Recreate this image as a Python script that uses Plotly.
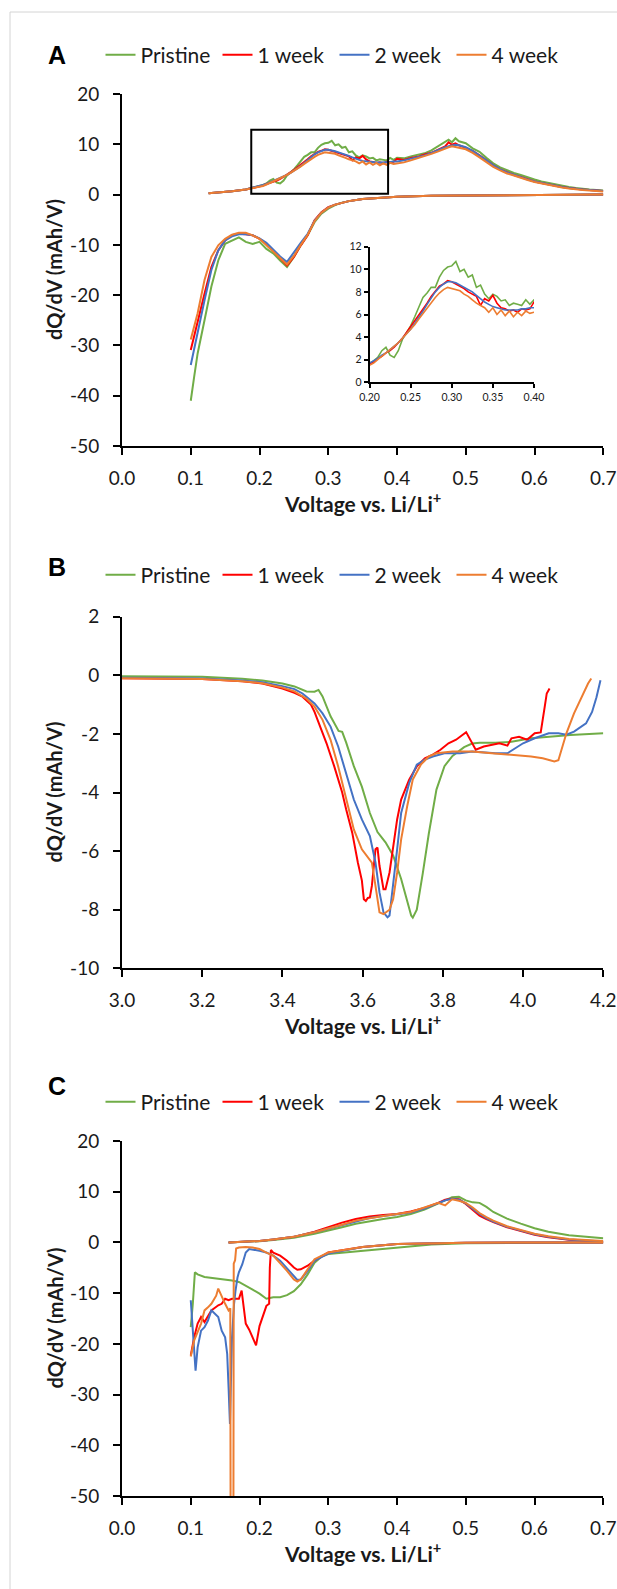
import plotly.graph_objects as go

W, H = 617, 1589
FONT = "Lato"

SERIES = ["Pristine", "1 week", "2 week", "4 week"]
COLORS = ["#70AD47", "#FF0000", "#4472C4", "#ED7D31"]

# ---------------- Panel A (anode, dQ/dV) ----------------
A_dis_V = [0.70, 0.65, 0.60, 0.55, 0.50, 0.45, 0.40, 0.37, 0.35, 0.33, 0.32, 0.31, 0.30, 0.29, 0.28,
           0.27, 0.26, 0.25, 0.24, 0.23, 0.22, 0.21, 0.20, 0.19, 0.18, 0.17, 0.16, 0.15, 0.14, 0.13,
           0.12, 0.11, 0.105, 0.10]
A_dis_pristine = [0, -0.03, -0.06, -0.1, -0.15, -0.25, -0.45, -0.65, -0.9, -1.3, -1.6, -2.1, -2.8, -3.8, -5.5,
                  -8.1, -10.1, -12.4, -14.4, -13.1, -11.7, -10.8, -9.4, -9.8, -9.4, -8.5, -9.1, -9.8, -13.1, -18.3,
                  -25.0, -31.6, -36.2, -41.0]
A_dis_1wk = [0, -0.03, -0.06, -0.1, -0.15, -0.25, -0.45, -0.65, -0.9, -1.3, -1.6, -2.0, -2.5, -3.5, -5.1,
             -8.1, -10.1, -12.4, -14.1, -12.7, -11.4, -9.8, -8.8, -8.1, -7.9, -7.8, -8.1, -9.1, -11.1, -14.4,
             -19.7, -25.6, -28.3, -30.9]
A_dis_2wk = [0, -0.03, -0.06, -0.1, -0.15, -0.25, -0.45, -0.65, -0.9, -1.3, -1.6, -2.0, -2.6, -3.6, -5.2,
             -7.8, -9.6, -11.6, -13.4, -12.3, -11.0, -9.6, -8.7, -8.1, -7.9, -7.9, -8.3, -9.1, -11.1, -15.0,
             -21.0, -27.6, -30.8, -33.9]
A_dis_4wk = [0, -0.03, -0.06, -0.1, -0.15, -0.25, -0.45, -0.65, -0.9, -1.3, -1.6, -2.0, -2.6, -3.6, -5.3,
             -8.0, -10.0, -12.2, -13.9, -12.6, -11.3, -9.9, -8.8, -8.1, -7.6, -7.6, -8.0, -8.8, -10.1, -12.4,
             -17.0, -23.6, -26.2, -28.8]

A_chg_V = [0.126, 0.14, 0.16, 0.18, 0.19,
           0.200, 0.205, 0.210, 0.215, 0.220, 0.225, 0.230, 0.235, 0.240, 0.245,
           0.250, 0.255, 0.260, 0.265, 0.270, 0.275, 0.280, 0.285, 0.290, 0.295,
           0.300, 0.305, 0.310, 0.315, 0.320, 0.325, 0.330, 0.335, 0.340, 0.345,
           0.350, 0.355, 0.360, 0.365, 0.370, 0.375, 0.380, 0.385, 0.390, 0.395, 0.400,
           0.41, 0.42, 0.43, 0.44, 0.45, 0.46, 0.465, 0.47, 0.475, 0.48, 0.485, 0.49,
           0.50, 0.51, 0.52, 0.53, 0.54, 0.55, 0.56, 0.57, 0.58, 0.59, 0.60,
           0.61, 0.62, 0.63, 0.64, 0.65, 0.66, 0.67, 0.68, 0.69, 0.70]
A_chg_pristine = [0.25, 0.4, 0.65, 1.0, 1.3,
                  1.7, 1.9, 2.2, 2.8, 3.1, 2.4, 2.2, 2.8, 3.8, 4.4,
                  5.0, 5.8, 6.6, 7.5, 7.9, 8.4, 8.4, 9.3, 9.9, 10.2,
                  10.3, 10.7, 9.8, 10.0, 9.3, 9.5, 8.4, 8.6, 7.8, 7.4,
                  7.8, 7.6, 7.2, 7.3, 6.8, 7.0, 6.9, 6.8, 7.3, 6.9, 7.3,
                  7.2, 7.6, 7.9, 8.2, 8.8, 9.6, 10.1, 10.5, 10.9, 10.4, 11.2, 10.6,
                  10.2, 9.2, 8.5, 7.3, 6.2, 5.4, 4.8, 4.3, 3.9, 3.4, 3.0,
                  2.6, 2.3, 2.0, 1.7, 1.5, 1.3, 1.1, 1.0, 0.9, 0.8]
A_chg_1wk = [0.25, 0.4, 0.65, 1.0, 1.3,
             1.6, 1.8, 2.1, 2.3, 2.6, 2.8, 3.1, 3.5, 3.9, 4.4,
             4.9, 5.4, 5.9, 6.5, 7.0, 7.6, 8.1, 8.5, 8.7, 9.0,
             8.9, 8.7, 8.5, 8.3, 8.0, 7.8, 7.6, 6.8, 7.4, 7.2,
             7.7, 7.0, 6.6, 6.5, 6.3, 6.4, 6.2, 6.5, 6.4, 6.5, 7.1,
             6.9, 7.3, 7.5, 8.0, 8.3, 9.0, 9.3, 9.6, 10.4, 9.9, 10.2, 9.8,
             9.3, 8.7, 7.8, 6.8, 5.8, 5.0, 4.4, 3.9, 3.5, 3.0, 2.6,
             2.3, 2.0, 1.7, 1.5, 1.3, 1.1, 1.0, 0.9, 0.8, 0.7]
A_chg_2wk = [0.25, 0.4, 0.65, 1.0, 1.3,
             1.7, 1.9, 2.1, 2.4, 2.6, 2.9, 3.2, 3.5, 3.9, 4.3,
             4.7, 5.2, 5.7, 6.3, 6.9, 7.5, 8.0, 8.4, 8.7, 8.9,
             8.9, 8.8, 8.6, 8.4, 8.2, 8.0, 7.7, 7.4, 7.1, 6.9,
             6.7, 6.6, 6.5, 6.4, 6.4, 6.4, 6.4, 6.5, 6.5, 6.6, 6.6,
             6.8, 7.1, 7.4, 7.8, 8.3, 8.9, 9.2, 9.4, 9.6, 9.8, 9.9, 9.8,
             9.4, 8.7, 7.8, 6.8, 5.8, 5.0, 4.4, 3.9, 3.5, 3.0, 2.6,
             2.3, 2.0, 1.7, 1.5, 1.3, 1.1, 1.0, 0.9, 0.8, 0.7]
A_chg_4wk = [0.25, 0.4, 0.65, 1.0, 1.3,
             1.5, 1.7, 2.0, 2.3, 2.6, 2.9, 3.2, 3.5, 3.9, 4.3,
             4.7, 5.1, 5.6, 6.1, 6.6, 7.1, 7.5, 7.9, 8.2, 8.4,
             8.3, 8.2, 8.1, 7.8, 7.6, 7.3, 7.0, 6.8, 6.6, 6.2,
             6.6, 6.0, 6.4, 5.9, 6.3, 5.8, 6.2, 5.9, 6.3, 6.1, 6.2,
             6.4, 6.8, 7.2, 7.6, 8.1, 8.6, 8.9, 9.2, 9.4, 9.6, 9.4, 9.3,
             9.0, 8.3, 7.4, 6.4, 5.5, 4.8, 4.2, 3.8, 3.3, 2.9, 2.5,
             2.2, 1.9, 1.6, 1.4, 1.2, 1.0, 0.9, 0.8, 0.7, 0.6]

# ---------------- Panel B (cathode, dQ/dV) ----------------
B_pristine_V = [3.00, 3.10, 3.20, 3.30, 3.35, 3.40, 3.43, 3.46, 3.48, 3.49, 3.50, 3.52, 3.54, 3.549,
                3.559, 3.578, 3.598, 3.618, 3.637, 3.657, 3.676, 3.696, 3.711, 3.721, 3.725, 3.735,
                3.75, 3.765, 3.784, 3.804, 3.824, 3.853, 3.873, 3.892, 3.931, 3.971, 4.02, 4.069,
                4.118, 4.2]
B_pristine_Q = [-0.03, -0.04, -0.05, -0.12, -0.18, -0.28, -0.38, -0.55, -0.56, -0.5, -0.72, -1.4, -1.9, -1.93,
                -2.3, -3.1, -3.8, -4.7, -5.35, -5.7, -6.15, -6.95, -7.75, -8.2, -8.27, -8.0,
                -6.75, -5.4, -3.9, -3.1, -2.75, -2.45, -2.33, -2.3, -2.3, -2.27, -2.15, -2.09,
                -2.04, -1.98]
B_1wk_V = [3.00, 3.10, 3.20, 3.30, 3.35, 3.40, 3.43, 3.45, 3.46, 3.471,
           3.48, 3.49, 3.51, 3.529, 3.549, 3.559, 3.574, 3.588, 3.598, 3.603,
           3.608, 3.613, 3.618, 3.623, 3.632, 3.637, 3.642, 3.652, 3.657, 3.667,
           3.676, 3.686, 3.696, 3.716, 3.735, 3.755, 3.775, 3.794, 3.814, 3.833,
           3.858, 3.873, 3.882, 3.902, 3.922, 3.941, 3.961, 3.971, 3.99, 4.01,
           4.029, 4.044, 4.054, 4.059, 4.066]
B_1wk_Q = [-0.1, -0.11, -0.13, -0.2, -0.28, -0.45, -0.6, -0.73, -0.85, -1.0,
           -1.25, -1.6, -2.32, -3.1, -4.0, -4.58, -5.37, -6.39, -7.0, -7.64,
           -7.7, -7.6, -7.58, -7.19, -5.94, -5.88, -6.5, -7.3, -7.3, -6.73,
           -5.83, -4.92, -4.24, -3.56, -3.11, -2.83, -2.71, -2.54, -2.32, -2.2,
           -1.94, -2.32, -2.54, -2.43, -2.37, -2.32, -2.4, -2.15, -2.1, -2.2,
           -1.98, -1.95, -1.07, -0.62, -0.45]
B_2wk_V = [3.00, 3.10, 3.20, 3.30, 3.35, 3.40, 3.43, 3.45, 3.47, 3.48,
           3.50, 3.52, 3.539, 3.559, 3.578, 3.598, 3.618, 3.632, 3.642, 3.652,
           3.662, 3.667, 3.676, 3.686, 3.696, 3.716, 3.735, 3.755, 3.775, 3.804,
           3.843, 3.873, 3.931, 3.961, 4.0, 4.029, 4.064, 4.088, 4.108, 4.127,
           4.157, 4.172, 4.183, 4.193]
B_2wk_Q = [-0.08, -0.09, -0.11, -0.18, -0.24, -0.37, -0.47, -0.62, -0.85, -0.96,
           -1.3, -1.75, -2.43, -3.34, -4.24, -4.92, -5.49, -6.39, -7.41, -8.09,
           -8.26, -8.2, -7.19, -5.94, -4.7, -3.68, -3.05, -2.88, -2.77, -2.66,
           -2.66, -2.6, -2.66, -2.66, -2.32, -2.15, -1.98, -1.98, -2.03, -1.92,
           -1.64, -1.25, -0.75, -0.17]
B_4wk_V = [3.00, 3.10, 3.20, 3.30, 3.35, 3.40, 3.43, 3.46, 3.48, 3.50,
           3.52, 3.539, 3.559, 3.578, 3.598, 3.613, 3.623, 3.632, 3.642, 3.652,
           3.667, 3.676, 3.686, 3.696, 3.711, 3.725, 3.745, 3.765, 3.784, 3.824,
           3.873, 3.922, 3.971, 4.02, 4.049, 4.078, 4.088, 4.108, 4.127, 4.142,
           4.162, 4.17]
B_4wk_Q = [-0.1, -0.11, -0.13, -0.2, -0.27, -0.42, -0.55, -0.8, -1.07, -1.52,
           -2.2, -3.11, -4.24, -5.26, -5.94, -6.22, -6.39, -7.19, -8.09, -8.15,
           -8.0, -7.64, -6.73, -5.6, -4.47, -3.56, -3.05, -2.77, -2.66, -2.6,
           -2.6, -2.66, -2.71, -2.77, -2.83, -2.94, -2.9, -1.98, -1.3, -0.85,
           -0.28, -0.11]

# ---------------- Panel C (anode, dQ/dV) ----------------
C_chg_V = [0.155, 0.18, 0.20, 0.22, 0.25, 0.28, 0.30, 0.32, 0.34, 0.36, 0.38, 0.40, 0.42, 0.44, 0.46,
           0.47, 0.48, 0.49, 0.50, 0.51, 0.52, 0.53, 0.54, 0.56, 0.58, 0.60, 0.62, 0.65, 0.70]
C_chg_pristine = [0.0, 0.1, 0.25, 0.5, 0.9, 1.7, 2.3, 3.0, 3.7, 4.2, 4.6, 5.0, 5.6, 6.5, 7.6,
                  8.3, 8.9, 9.0, 8.3, 7.9, 7.8, 7.0, 6.0, 4.7, 3.7, 2.8, 2.1, 1.4, 0.8]
C_chg_1wk = [0.0, 0.1, 0.3, 0.6, 1.1, 2.1, 3.0, 3.9, 4.6, 5.1, 5.4, 5.6, 6.1, 6.8, 7.8,
             8.4, 8.6, 8.5, 7.6, 6.4, 5.3, 4.6, 4.0, 3.0, 2.2, 1.5, 1.0, 0.55, 0.15]
C_chg_2wk = [0.0, 0.1, 0.3, 0.6, 1.1, 2.0, 2.7, 3.5, 4.2, 4.8, 5.2, 5.5, 5.9, 6.7, 7.7,
             8.3, 8.6, 8.4, 7.7, 6.7, 5.6, 4.8, 4.1, 3.1, 2.3, 1.6, 1.1, 0.6, 0.2]
C_chg_4wk = [0.0, 0.1, 0.3, 0.6, 1.1, 2.0, 2.7, 3.5, 4.3, 4.8, 5.2, 5.6, 6.0, 6.9, 7.8,
             7.3, 8.5, 8.2, 7.8, 6.9, 5.8, 5.0, 4.3, 3.2, 2.4, 1.7, 1.2, 0.7, 0.3]

C_dis_pristine_V = [0.70, 0.60, 0.50, 0.45, 0.40, 0.35, 0.30, 0.29, 0.28, 0.27, 0.26, 0.25, 0.24, 0.23,
                    0.22, 0.21, 0.20, 0.19, 0.18, 0.17, 0.16, 0.14, 0.12, 0.11, 0.106, 0.103, 0.10]
C_dis_pristine_Q = [0, -0.05, -0.15, -0.4, -1.0, -1.65, -2.3, -2.8, -4.0, -6.3, -8.25, -9.6, -10.4, -10.8,
                    -10.8, -11.1, -10.1, -9.3, -8.5, -7.8, -7.5, -7.2, -6.8, -6.3, -5.9, -12.1, -16.7]
C_dis_1wk_V = [0.70, 0.60, 0.50, 0.40, 0.35, 0.30, 0.28, 0.27, 0.26, 0.255,
               0.25, 0.24, 0.23, 0.22, 0.2166, 0.215, 0.214, 0.21, 0.205, 0.20,
               0.195, 0.19, 0.185, 0.18, 0.176, 0.174, 0.17, 0.165, 0.16, 0.155,
               0.15, 0.145, 0.14, 0.13, 0.12, 0.115, 0.11, 0.105, 0.102, 0.10]
C_dis_1wk_Q = [0, -0.02, -0.05, -0.3, -0.9, -2.0, -3.6, -4.6, -5.3, -5.4,
               -4.95, -3.6, -2.6, -2.0, -1.5, -5.0, -12.1, -12.5, -14.7, -16.5,
               -20.3, -18.7, -17.2, -16.0, -12.0, -9.5, -11.1, -11.1, -11.1, -11.4,
               -11.1, -12.1, -12.4, -13.4, -15.7, -14.7, -16.0, -18.7, -20.7, -22.3]
C_dis_2wk_V = [0.70, 0.60, 0.50, 0.40, 0.35, 0.30, 0.28, 0.27, 0.26, 0.255,
               0.25, 0.24, 0.23, 0.22, 0.21, 0.20, 0.19, 0.185, 0.18, 0.175,
               0.17, 0.168, 0.165, 0.163, 0.16, 0.158, 0.157, 0.155, 0.153, 0.15,
               0.145, 0.14, 0.135, 0.13, 0.125, 0.12, 0.115, 0.11, 0.107, 0.104,
               0.102, 0.10]
C_dis_2wk_Q = [0, -0.02, -0.05, -0.3, -0.9, -2.2, -3.6, -5.6, -7.3, -7.4,
               -6.6, -5.0, -3.6, -2.6, -2.0, -1.65, -1.45, -1.3, -2.0, -4.3,
               -5.9, -6.9, -9.6, -12.1, -18.7, -28.6, -35.8, -28.6, -22.0, -18.7,
               -17.4, -14.7, -14.1, -13.4, -15.4, -16.7, -17.4, -20.7, -25.3, -18.7,
               -14.7, -11.4]
C_dis_4wk_V = [0.70, 0.60, 0.50, 0.40, 0.35, 0.30, 0.28, 0.27, 0.26, 0.255,
               0.25, 0.24, 0.23, 0.22, 0.21, 0.20, 0.19, 0.18, 0.17, 0.166,
               0.1645, 0.1625, 0.162, 0.158, 0.1575, 0.155, 0.15, 0.145, 0.14, 0.137,
               0.13, 0.125, 0.12, 0.115, 0.11, 0.105, 0.10]
C_dis_4wk_Q = [0, -0.02, -0.05, -0.3, -0.9, -2.0, -3.3, -5.3, -7.3, -7.7,
               -7.3, -5.6, -4.0, -2.6, -2.0, -1.3, -1.0, -0.9, -1.0, -1.2,
               -3.5, -4.2, -60, -60, -13.0, -13.4, -12.1, -10.5, -9.1, -10.5,
               -12.1, -12.8, -13.4, -16.0, -17.7, -19.3, -22.5]

# tick values / labels
A_xticks = [0.0, 0.1, 0.2, 0.3, 0.4, 0.5, 0.6, 0.7]
B_xticks = [3.0, 3.2, 3.4, 3.6, 3.8, 4.0, 4.2]
A_yticks = [20, 10, 0, -10, -20, -30, -40, -50]
B_yticks = [2, 0, -2, -4, -6, -8, -10]
INSET_yticks = [0, 2, 4, 6, 8, 10, 12]
INSET_xticks = [0.20, 0.25, 0.30, 0.35, 0.40]

# ---------------- figure ----------------
fig = go.Figure()

A_dis = [A_dis_pristine, A_dis_1wk, A_dis_2wk, A_dis_4wk]
A_chg = [A_chg_pristine, A_chg_1wk, A_chg_2wk, A_chg_4wk]
B_V = [B_pristine_V, B_1wk_V, B_2wk_V, B_4wk_V]
B_Q = [B_pristine_Q, B_1wk_Q, B_2wk_Q, B_4wk_Q]
C_chg = [C_chg_pristine, C_chg_1wk, C_chg_2wk, C_chg_4wk]
C_dV = [C_dis_pristine_V, C_dis_1wk_V, C_dis_2wk_V, C_dis_4wk_V]
C_dQ = [C_dis_pristine_Q, C_dis_1wk_Q, C_dis_2wk_Q, C_dis_4wk_Q]

for i in range(4):
    fig.add_trace(go.Scatter(
        x=A_dis_V + [None] + A_chg_V, y=A_dis[i] + [None] + A_chg[i],
        mode="lines", name=SERIES[i], line=dict(color=COLORS[i], width=2),
        xaxis="x", yaxis="y", legend="legend", connectgaps=False))
for i in range(4):
    fig.add_trace(go.Scatter(
        x=A_chg_V, y=A_chg[i], mode="lines", name=SERIES[i],
        line=dict(color=COLORS[i], width=1.6), xaxis="x4", yaxis="y4", showlegend=False))
for i in range(4):
    fig.add_trace(go.Scatter(
        x=B_V[i], y=B_Q[i], mode="lines", name=SERIES[i],
        line=dict(color=COLORS[i], width=2), xaxis="x2", yaxis="y2", legend="legend2"))
for i in range(4):
    fig.add_trace(go.Scatter(
        x=C_dV[i] + [None] + C_chg_V, y=C_dQ[i] + [None] + C_chg[i],
        mode="lines", name=SERIES[i], line=dict(color=COLORS[i], width=2),
        xaxis="x3", yaxis="y3", legend="legend3", connectgaps=False))

def ydom(top, bottom):
    return [1 - bottom / H, 1 - top / H]

XDOM = [122 / W, 603.3 / W]
TICKFONT = dict(family=FONT, size=19, color="#1a1a1a")
common = dict(showline=True, linecolor="black", linewidth=2, ticks="outside", ticklen=7,
              tickwidth=2, tickcolor="black", showgrid=False, zeroline=False, mirror=False,
              tickfont=TICKFONT, automargin=False, ticklabeloverflow="allow")

def xax(ticks, rng, anchor):
    return dict(common, domain=XDOM, range=rng, tickmode="array", tickvals=ticks,
                ticktext=["%.1f" % v for v in ticks], anchor=anchor, ticklabelstandoff=7)

def yax(ticks, rng, dom, anchor):
    return dict(common, domain=ydom(*dom), range=rng, tickmode="array", tickvals=ticks,
                ticktext=[str(v) for v in ticks], anchor=anchor, ticklabelstandoff=10)

PA = (94, 446)
PB = (616.7, 968.3)
PC = (1141, 1496)

inset_common = dict(showline=True, linecolor="black", linewidth=1.5, ticks="outside", ticklen=4,
                    tickwidth=1.5, tickcolor="black", showgrid=False, zeroline=False,
                    automargin=False, tickfont=dict(family=FONT, size=10.5, color="#1a1a1a"))

fig.update_layout(
    xaxis=xax(A_xticks, [0, 0.70001], "y"),
    yaxis=yax(A_yticks, [-50, 20], PA, "x"),
    xaxis2=xax(B_xticks, [3.0, 4.20001], "y2"),
    yaxis2=yax(B_yticks, [-10, 2], PB, "x2"),
    xaxis3=xax(A_xticks, [0, 0.70001], "y3"),
    yaxis3=yax(A_yticks, [-50, 20], PC, "x3"),
    xaxis4=dict(inset_common, domain=[369.5 / W, 534 / W], range=[0.2, 0.40001], tickmode="array",
                tickvals=INSET_xticks, ticktext=["%.2f" % v for v in INSET_xticks], anchor="y4"),
    yaxis4=dict(inset_common, domain=ydom(246.7, 382.3), range=[0, 12.0001], tickmode="array",
                tickvals=INSET_yticks, ticktext=[str(v) for v in INSET_yticks], anchor="x4"),
    width=W, height=H, margin=dict(l=0, r=0, t=0, b=0, autoexpand=False),
    paper_bgcolor="white", plot_bgcolor="rgba(0,0,0,0)",
    font=dict(family=FONT, color="#1a1a1a"),
)

def leg(ypx):
    return dict(orientation="h", x=100.5 / W, xanchor="left", y=1 - ypx / H, yanchor="middle",
                font=dict(family=FONT, size=21, color="#1a1a1a"), bgcolor="rgba(0,0,0,0)",
                entrywidth=72, itemwidth=30, borderwidth=0)

fig.update_layout(legend=leg(55), legend2=leg(575), legend3=leg(1102))

# zoom box in panel A
fig.add_shape(type="rect", xref="x", yref="y", x0=0.188, x1=0.387, y0=0.15, y1=12.9,
              line=dict(color="black", width=2), fillcolor="rgba(0,0,0,0)")

# thin frame of the figure
fig.add_shape(type="line", xref="paper", yref="paper", x0=10 / W, x1=10 / W, y0=1 - 12 / H, y1=0,
              line=dict(color="#d4d4d4", width=1))
fig.add_shape(type="line", xref="paper", yref="paper", x0=10 / W, x1=1, y0=1 - 12 / H, y1=1 - 12 / H,
              line=dict(color="#d4d4d4", width=1))

ann = []
for letter, ypx in [("A", 55), ("B", 567), ("C", 1086)]:
    ann.append(dict(text="<b>%s</b>" % letter, x=57 / W, y=1 - ypx / H, xref="paper", yref="paper",
                    xanchor="center", yanchor="middle", showarrow=False,
                    font=dict(family="Liberation Sans", size=25, color="black")))
for (top, bottom) in [PA, PB, PC]:
    ann.append(dict(text="<b>dQ/dV (mAh/V)</b>", x=54 / W, y=1 - (top + bottom) / 2 / H,
                    xref="paper", yref="paper", textangle=-90, xanchor="center", yanchor="middle",
                    showarrow=False, font=dict(family=FONT, size=20, color="#1a1a1a")))
    ann.append(dict(text="<b>Voltage vs. Li/Li<sup>+</sup></b>", x=362.5 / W, y=1 - (bottom + 56) / H,
                    xref="paper", yref="paper", xanchor="center", yanchor="middle",
                    showarrow=False, font=dict(family=FONT, size=21, color="#1a1a1a")))
fig.update_layout(annotations=ann)

fig.write_html("out.html")
